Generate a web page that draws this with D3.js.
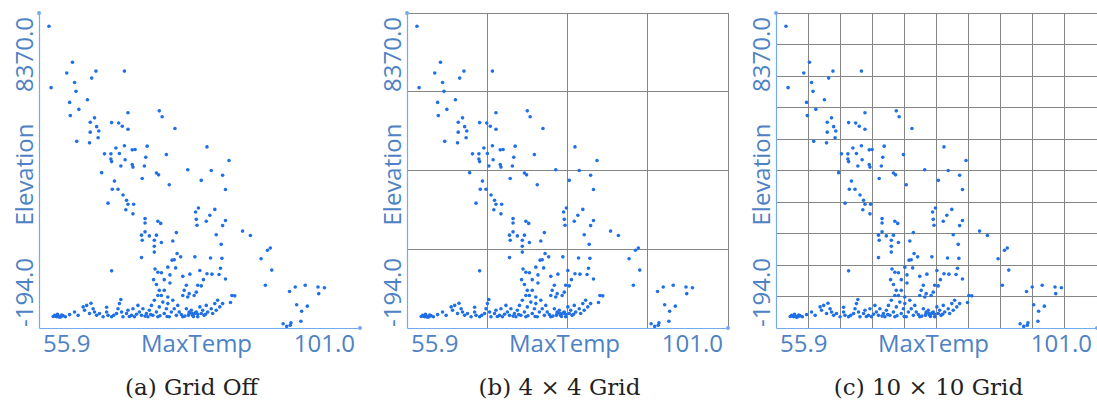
<!DOCTYPE html>
<html>
<head>
<meta charset="utf-8">
<script src="https://cdn.jsdelivr.net/npm/d3@7"></script>
<style>
  html, body { margin: 0; padding: 0; background: #fff; }
  svg { display: block; }
</style>
</head>
<body>
<svg id="chart" width="1097" height="410"></svg>
<script>
// ---------------- data ----------------
const xTitle = "MaxTemp";
const yTitle = "Elevation";
const xTickLabels = ["55.9", "101.0"];
const yTickLabels = ["-194.0", "8370.0"];
const xDomain = [55.9, 101.0];
const yDomain = [-194, 8370];
const captions = ["(a) Grid Off", "(b) 4 \u00d7 4 Grid", "(c) 10 \u00d7 10 Grid"];
const gridCounts = [0, 4, 10];

const maxTemp = [
  57.3, 57.6, 60.6, 59.8, 63.9, 63.3, 67.9, 60.9, 61.1, 62.7,
  60.2, 61.5, 60.3, 63.7, 63.1, 64.0, 63.1, 64.3, 64.2, 61.2,
  63.0, 68.4, 72.8, 73.2, 75.0, 66.1, 67.1, 67.6, 68.4, 67.9,
  66.7, 65.1, 66.0, 66.1, 67.2, 68.0, 69.0, 69.4, 67.4, 69.0,
  69.1, 71.1, 70.9, 70.7, 70.4, 72.4, 72.7, 73.8, 74.2, 64.7,
  66.5, 66.2, 67.0, 67.7, 68.2, 68.4, 69.2, 68.1, 69.1, 65.6,
  79.5, 82.6, 76.8, 80.1, 78.7, 81.7, 82.1, 70.8, 70.8, 72.6,
  73.0, 70.3, 70.8, 71.4, 72.4, 70.4, 72.1, 72.1, 72.1, 75.2,
  74.7, 73.1, 78.3, 77.9, 78.0, 80.6, 79.9, 79.4, 78.1, 82.1,
  81.7, 80.8, 81.5, 84.5, 85.6, 88.4, 88.0, 87.1, 88.6, 87.7,
  70.3, 66.1, 75.8, 75.3, 74.9, 74.6, 74.0, 77.8, 80.0, 81.6,
  81.4, 81.2, 82.1, 78.5, 79.5, 80.2, 79.0, 78.7, 78.2, 77.1,
  76.1, 75.1, 74.3, 74.3, 72.2, 72.6, 73.1, 72.0, 72.4, 73.5,
  66.0,
  83.4, 83.0, 82.8, 91.1, 91.9, 93.3, 95.1, 96.0, 95.2, 92.1,
  93.6, 92.8, 92.7, 90.2, 90.7, 91.2, 91.3,
  58.1, 58.4, 58.5, 58.7, 59.0, 59.3, 59.6,
  60.2, 60.9, 61.4, 62.1, 62.3, 62.6, 63.0, 63.5, 63.7, 64.0,
  64.4, 64.9, 65.4, 65.6, 66.1, 66.8, 67.0, 67.2, 67.5, 67.7,
  68.2, 68.4, 68.9, 69.1, 69.3, 69.8, 70.0, 70.3, 70.5, 71.0,
  71.2, 71.4, 71.7, 71.9, 72.1, 72.4, 72.6, 72.8, 73.1, 73.3,
  73.5, 73.8, 74.0, 74.2, 74.5, 74.7, 74.9, 75.2, 75.4, 75.6,
  76.1, 76.3, 76.6, 76.8, 77.0, 77.3, 77.5, 77.7, 78.0, 78.2,
  78.5, 78.7, 78.9, 79.1, 79.4, 79.6, 80.1, 80.3, 80.6, 80.8,
  81.0, 81.3, 81.7,
  72.8, 73.5, 72.6, 74.0, 76.6, 76.1, 77.0, 78.0,
  76.9, 77.4, 77.8, 78.2, 77.6, 77.0,
  67.4, 65.4, 63.2,
  58.2, 58.8, 59.1, 57.9,
  66.4, 68.6, 69.6, 70.8, 71.6, 72.9, 73.9, 75.9, 76.4, 79.3
];
const elevation = [
  8010, 6340, 7030, 6740, 6790, 6600, 6790, 6480, 6240, 6010,
  5940, 5750, 5580, 5520, 5400, 5280, 5130, 5160, 4980, 4880,
  4840, 5660, 5710, 5550, 5230, 5390, 5380, 5290, 5210, 4760,
  4700, 4540, 4540, 4330, 4550, 4380, 4650, 4660, 4210, 4250,
  4180, 4750, 4450, 4210, 3870, 4020, 3970, 4520, 3700, 4030,
  3800, 3580, 3580, 3420, 3280, 3170, 3170, 3020, 2910, 3200,
  4730, 4360, 4110, 4090, 3820, 3960, 3570, 2780, 2660, 2710,
  2650, 2330, 2420, 2310, 2330, 2190, 2190, 2030, 1870, 2400,
  2170, 2130, 3070, 2960, 2760, 3030, 2870, 2710, 2600, 2730,
  2590, 2340, 2080, 2440, 2320, 1980, 1920, 1690, 1380, 970,
  1720, 1360, 1740, 1830, 1660, 1650, 1460, 1740, 1710, 1700,
  1430, 1260, 1140, 1370, 1280, 1270, 1120, 950, 970, 1270,
  1210, 1440, 1250, 1030, 1410, 1320, 1310, 1120, 990, 1120,
  4400,
  680, 690, 500, 800, 920, 970, 920, 900, 740, 440,
  400, 260, -10, -80, -150, -120, -50,
  150, 110, 180, 120, 110, 140, 110,
  170, 240, 150, 380, 290, 420, 200, 330, 240, 150,
  200, 110, 240, 150, 110, 200, 330, 470, 240, 110,
  200, 290, 150, 330, 110, 420, 240, 150, 330, 200,
  110, 290, 420, 150, 560, 240, 110, 380, 690, 510,
  200, 330, 470, 110, 240, 560, 330, 150, 420, 240,
  110, 830, 330, 650, 200, 290, 150, 690, 240, 110,
  380, 200, 290, 150, 420, 240, 330, 200, 470, 290,
  560, 380, 470,
  830, 830, 690, 650, 970, 690, 740, 780,
  150, 200, 210, 180, 120, 240,
  580, 370, 480,
  130, 100, 160, 120,
  150, 120, 180, 130, 170, 140, 120, 170, 130, 180
];

// ---------------- drawing ----------------
const svg = d3.select("#chart");
const panelLefts = [39, 407, 776];
const plotTop = 13, plotW = 321, plotH = 315;
const axisColor = "#74aaee";
const labelColor = "#4d82c4";
const dotColor = "#1f6fe6";
const points = maxTemp.map((t, i) => ({ t, e: elevation[i] }));

panelLefts.forEach((left, p) => {
  const x = d3.scaleLinear().domain(xDomain).range([0, plotW]);
  const y = d3.scaleLinear().domain(yDomain).range([plotH, 0]);
  const g = svg.append("g").attr("transform", `translate(${left},${plotTop})`);

  // grid
  const n = gridCounts[p];
  if (n > 0) {
    const grid = g.append("g").attr("stroke", "#858585").attr("stroke-width", 1).attr("shape-rendering", "crispEdges");
    d3.range(1, n + 1).forEach(i => {
      const xv = xDomain[0] + i * (xDomain[1] - xDomain[0]) / n;
      const yv = yDomain[0] + i * (yDomain[1] - yDomain[0]) / n;
      grid.append("line").attr("x1", x(xv)).attr("x2", x(xv)).attr("y1", 0).attr("y2", plotH);
      grid.append("line").attr("x1", 0).attr("x2", plotW).attr("y1", y(yv)).attr("y2", y(yv));
    });
  }

  // axes lines (no ticks)
  const xAxis = d3.axisBottom(x).tickValues([]).tickSizeOuter(0);
  const yAxis = d3.axisLeft(y).tickValues([]).tickSizeOuter(0);
  g.append("g").attr("transform", `translate(0,${plotH})`).call(xAxis)
    .select(".domain").attr("stroke", axisColor).attr("stroke-width", 1.2);
  g.append("g").call(yAxis)
    .select(".domain").attr("stroke", axisColor).attr("stroke-width", 1.2);
  g.append("circle").attr("cx", 0).attr("cy", 0).attr("r", 2).attr("fill", axisColor);
  g.append("circle").attr("cx", plotW).attr("cy", plotH).attr("r", 2).attr("fill", axisColor);

  // points
  g.append("g").selectAll("circle").data(points).join("circle")
    .attr("cx", d => x(d.t)).attr("cy", d => y(d.e))
    .attr("r", 1.8).attr("fill", dotColor);

  // x labels
  const fs = "24px";
  const ff = "'Open Sans', sans-serif";
  g.append("text").attr("x", 4).attr("y", plotH + 24).text(xTickLabels[0])
    .attr("font-family", ff).attr("font-size", fs).attr("fill", labelColor);
  g.append("text").attr("x", plotW - 5).attr("y", plotH + 24).attr("text-anchor", "end").text(xTickLabels[1])
    .attr("font-family", ff).attr("font-size", fs).attr("fill", labelColor);
  g.append("text").attr("x", plotW / 2 - 3).attr("y", plotH + 24).attr("text-anchor", "middle").text(xTitle)
    .attr("font-family", ff).attr("font-size", fs).attr("fill", labelColor);

  // y labels (rotated)
  g.append("text").attr("transform", `translate(-6,${plotH - 1}) rotate(-90)`).text(yTickLabels[0])
    .attr("font-family", ff).attr("font-size", fs).attr("fill", labelColor);
  g.append("text").attr("transform", `translate(-6,4) rotate(-90)`).attr("text-anchor", "end").text(yTickLabels[1])
    .attr("font-family", ff).attr("font-size", fs).attr("fill", labelColor);
  g.append("text").attr("transform", `translate(-6,${plotH / 2 + 4}) rotate(-90)`).attr("text-anchor", "middle").text(yTitle)
    .attr("font-family", ff).attr("font-size", fs).attr("fill", labelColor);

  // caption
  svg.append("text").attr("x", left + plotW / 2 - 8).attr("y", 395).attr("text-anchor", "middle")
    .text(captions[p]).attr("font-family", "'DejaVu Serif', serif").attr("font-size", "23px").attr("fill", "#222");
});
</script>
</body>
</html>
